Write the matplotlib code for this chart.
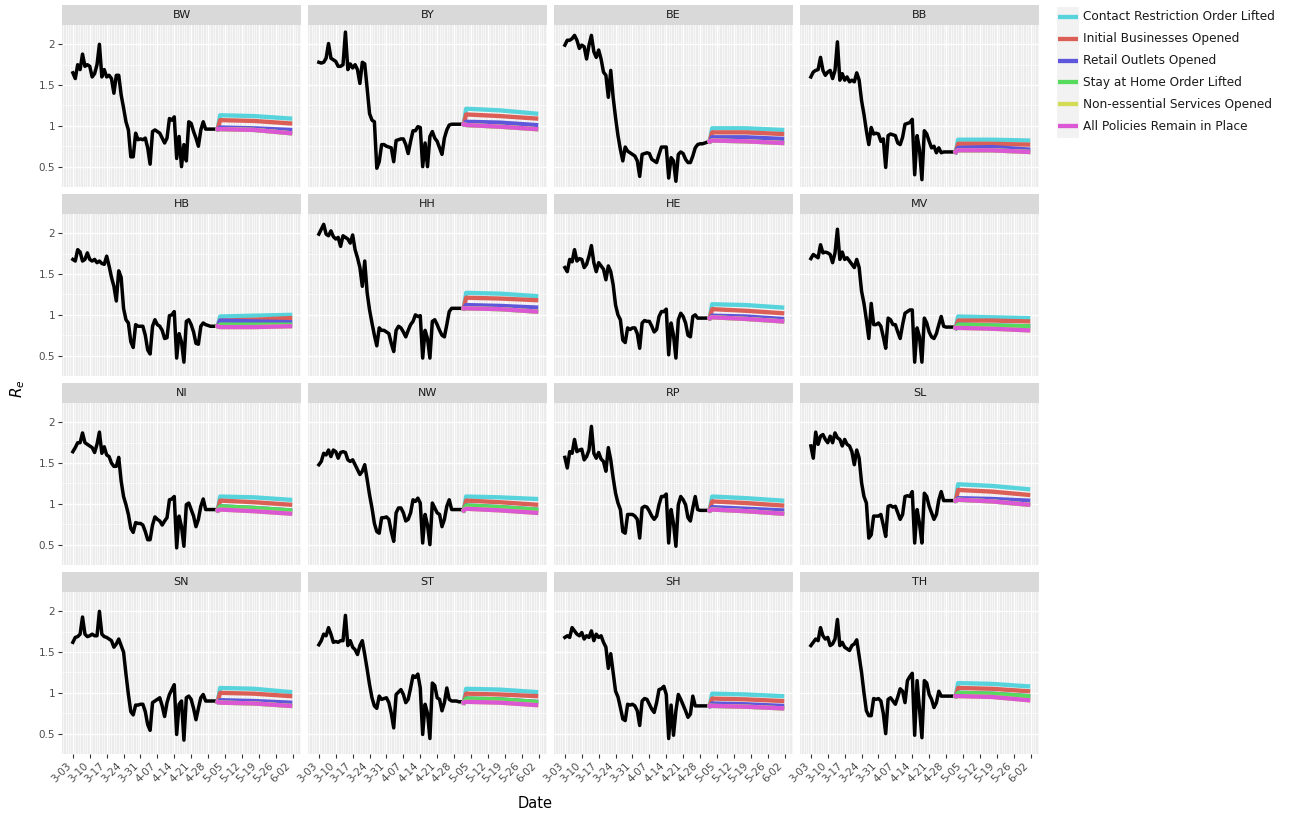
import matplotlib
matplotlib.use("Agg")
import matplotlib.pyplot as plt
import pandas as pd

# --- data -------------------------------------------------------------------
states = ["BW", "BY", "BE", "BB", "HB", "HH", "HE", "MV",
          "NI", "NW", "RP", "SL", "SN", "ST", "SH", "TH"]

scenarios = [
    "Contact Restriction Order Lifted",
    "Initial Businesses Opened",
    "Retail Outlets Opened",
    "Stay at Home Order Lifted",
    "Non-essential Services Opened",
    "All Policies Remain in Place",
]
scenario_colors = ["#57d3db", "#db5f57", "#5e57db", "#57db5e", "#d3db57", "#db57d3"]

obs_start = "2020-03-03"  # first day of the daily R_e estimates
proj_dates = ["2020-05-03", "2020-05-17", "2020-06-01"]
week_ticks = pd.date_range("2020-03-03", "2020-06-02", freq="7D")

re_BW = [1.65, 1.58, 1.75, 1.69, 1.88, 1.73, 1.75, 1.73, 1.60, 1.64,
         1.75, 2.00, 1.60, 1.69, 1.60, 1.62, 1.58, 1.40, 1.62, 1.62,
         1.38, 1.22, 1.05, 0.95, 0.62, 0.62, 0.91, 0.83, 0.84, 0.83,
         0.85, 0.73, 0.53, 0.93, 0.95, 0.93, 0.91, 0.85, 0.79, 0.85,
         1.09, 1.07, 1.11, 0.60, 0.87, 0.50, 0.77, 0.57, 1.05, 1.03,
         0.93, 0.85, 0.75, 0.95, 1.05, 0.96, 0.96, 0.96, 0.96, 0.96, 0.96]
re_BY = [1.78, 1.77, 1.78, 1.83, 2.01, 1.83, 1.81, 1.79, 1.73, 1.73,
         1.75, 2.15, 1.69, 1.76, 1.71, 1.75, 1.69, 1.52, 1.78, 1.76,
         1.46, 1.15, 1.07, 1.05, 0.48, 0.56, 0.77, 0.77, 0.75, 0.74,
         0.73, 0.56, 0.82, 0.83, 0.84, 0.84, 0.77, 0.66, 0.81, 0.94,
         0.94, 0.99, 0.98, 0.50, 0.79, 0.50, 0.87, 0.93, 0.85, 0.81,
         0.73, 0.65, 0.85, 0.95, 1.01, 1.02, 1.02, 1.02, 1.02, 1.02, 1.02]
re_BE = [1.99, 2.05, 2.05, 2.07, 2.11, 2.05, 1.95, 1.99, 1.97, 1.82,
         1.99, 2.11, 1.91, 1.84, 1.93, 1.82, 1.66, 1.62, 1.35, 1.68,
         1.35, 1.10, 0.88, 0.71, 0.57, 0.74, 0.69, 0.67, 0.65, 0.63,
         0.57, 0.38, 0.65, 0.66, 0.67, 0.66, 0.59, 0.57, 0.55, 0.65,
         0.74, 0.74, 0.74, 0.36, 0.61, 0.57, 0.32, 0.65, 0.68, 0.66,
         0.59, 0.55, 0.55, 0.63, 0.73, 0.77, 0.78, 0.78, 0.79, 0.80, 0.81]
re_BB = [1.60, 1.66, 1.68, 1.69, 1.84, 1.68, 1.62, 1.66, 1.68, 1.58,
         1.68, 2.03, 1.56, 1.64, 1.56, 1.60, 1.54, 1.56, 1.54, 1.65,
         1.56, 1.31, 1.14, 0.94, 0.77, 0.98, 0.90, 0.91, 0.90, 0.81,
         0.84, 0.49, 0.88, 0.90, 0.89, 0.88, 0.79, 0.77, 0.86, 1.02,
         1.03, 1.04, 1.08, 0.40, 0.88, 0.71, 0.34, 0.94, 0.90, 0.81,
         0.73, 0.75, 0.67, 0.73, 0.67, 0.68, 0.68, 0.68, 0.68, 0.68, 0.68]
re_HB = [1.68, 1.66, 1.80, 1.77, 1.66, 1.68, 1.76, 1.68, 1.66, 1.68,
         1.64, 1.66, 1.63, 1.62, 1.72, 1.60, 1.46, 1.35, 1.17, 1.54,
         1.46, 1.08, 0.94, 0.90, 0.67, 0.60, 0.88, 0.86, 0.86, 0.86,
         0.75, 0.57, 0.52, 0.86, 0.94, 0.88, 0.86, 0.81, 0.71, 0.72,
         0.99, 1.00, 1.04, 0.47, 0.77, 0.67, 0.42, 0.92, 0.94, 0.88,
         0.79, 0.65, 0.64, 0.86, 0.90, 0.88, 0.87, 0.86, 0.86, 0.86, 0.86]
re_HH = [1.99, 2.05, 2.11, 1.99, 1.97, 2.03, 1.96, 1.93, 1.95, 1.84,
         1.97, 1.95, 1.93, 1.88, 1.98, 1.80, 1.70, 1.58, 1.35, 1.66,
         1.27, 1.06, 0.90, 0.75, 0.62, 0.84, 0.81, 0.81, 0.79, 0.77,
         0.65, 0.55, 0.81, 0.86, 0.84, 0.79, 0.73, 0.81, 0.88, 0.92,
         1.00, 0.98, 0.99, 0.47, 0.81, 0.71, 0.47, 0.92, 0.94, 0.88,
         0.81, 0.75, 0.73, 0.88, 1.04, 1.08, 1.08, 1.08, 1.08, 1.08, 1.08]
re_HE = [1.58, 1.53, 1.68, 1.65, 1.80, 1.66, 1.69, 1.68, 1.58, 1.62,
         1.72, 1.85, 1.64, 1.53, 1.64, 1.60, 1.56, 1.43, 1.60, 1.53,
         1.37, 1.12, 1.00, 0.94, 0.69, 0.66, 0.84, 0.82, 0.84, 0.84,
         0.77, 0.59, 0.90, 0.93, 0.92, 0.92, 0.86, 0.79, 0.82, 0.98,
         1.04, 1.04, 1.07, 0.51, 0.90, 0.75, 0.47, 0.94, 1.02, 0.98,
         0.90, 0.75, 0.73, 0.98, 1.00, 0.96, 0.96, 0.96, 0.96, 0.96, 0.96]
re_MV = [1.69, 1.74, 1.72, 1.70, 1.86, 1.76, 1.77, 1.76, 1.74, 1.64,
         1.76, 2.05, 1.68, 1.77, 1.68, 1.70, 1.66, 1.62, 1.58, 1.68,
         1.58, 1.29, 1.14, 0.94, 0.71, 1.14, 0.88, 0.88, 0.90, 0.86,
         0.73, 0.59, 0.96, 0.94, 0.88, 0.88, 0.79, 0.71, 0.88, 1.02,
         1.04, 1.06, 1.06, 0.42, 0.84, 0.73, 0.42, 0.96, 0.90, 0.79,
         0.73, 0.71, 0.77, 0.88, 0.98, 0.86, 0.85, 0.85, 0.85, 0.85, 0.84]
re_NI = [1.64, 1.69, 1.75, 1.75, 1.87, 1.75, 1.73, 1.71, 1.69, 1.63,
         1.73, 1.88, 1.62, 1.70, 1.60, 1.58, 1.50, 1.46, 1.46, 1.57,
         1.28, 1.09, 0.99, 0.87, 0.70, 0.65, 0.77, 0.76, 0.76, 0.74,
         0.66, 0.56, 0.56, 0.74, 0.84, 0.81, 0.79, 0.74, 0.79, 0.83,
         1.05, 1.06, 1.09, 0.46, 0.85, 0.72, 0.48, 0.99, 1.01, 0.93,
         0.85, 0.72, 0.81, 0.97, 1.06, 0.93, 0.93, 0.93, 0.93, 0.93, 0.92]
re_NW = [1.48, 1.52, 1.62, 1.60, 1.66, 1.58, 1.66, 1.64, 1.56, 1.63,
         1.64, 1.63, 1.54, 1.52, 1.54, 1.48, 1.42, 1.36, 1.40, 1.48,
         1.30, 1.11, 0.95, 0.76, 0.66, 0.64, 0.83, 0.83, 0.84, 0.81,
         0.66, 0.54, 0.89, 0.95, 0.95, 0.89, 0.79, 0.81, 0.89, 1.05,
         1.03, 1.07, 1.01, 0.52, 0.87, 0.74, 0.50, 1.01, 0.95, 0.89,
         0.87, 0.72, 0.81, 0.97, 1.05, 0.93, 0.93, 0.93, 0.93, 0.93, 0.92]
re_RP = [1.57, 1.44, 1.64, 1.62, 1.79, 1.64, 1.66, 1.67, 1.54, 1.58,
         1.66, 1.95, 1.62, 1.56, 1.63, 1.55, 1.52, 1.40, 1.69, 1.54,
         1.32, 1.13, 1.01, 0.93, 0.66, 0.64, 0.87, 0.87, 0.87, 0.85,
         0.81, 0.58, 0.95, 0.97, 0.96, 0.91, 0.85, 0.81, 0.85, 0.99,
         1.09, 1.09, 1.12, 0.52, 0.93, 0.76, 0.48, 0.99, 1.09, 1.05,
         0.99, 0.83, 0.79, 0.95, 1.09, 0.93, 0.92, 0.92, 0.92, 0.92, 0.92]
re_SL = [1.71, 1.56, 1.88, 1.73, 1.83, 1.85, 1.79, 1.75, 1.83, 1.75,
         1.87, 1.81, 1.79, 1.71, 1.79, 1.73, 1.71, 1.64, 1.48, 1.66,
         1.56, 1.26, 1.09, 1.01, 0.58, 0.62, 0.85, 0.85, 0.85, 0.87,
         0.74, 0.60, 0.97, 0.98, 0.96, 0.97, 0.89, 0.81, 0.87, 1.09,
         1.10, 1.09, 1.15, 0.52, 0.93, 0.76, 0.52, 1.13, 1.09, 0.97,
         0.89, 0.81, 0.87, 1.05, 1.15, 1.04, 1.04, 1.04, 1.04, 1.04, 1.04]
re_SN = [1.62, 1.68, 1.69, 1.72, 1.93, 1.72, 1.69, 1.70, 1.72, 1.70,
         1.70, 2.00, 1.72, 1.69, 1.68, 1.66, 1.64, 1.56, 1.60, 1.66,
         1.58, 1.50, 1.23, 0.98, 0.77, 0.73, 0.85, 0.85, 0.86, 0.86,
         0.77, 0.61, 0.54, 0.88, 0.90, 0.92, 0.94, 0.84, 0.71, 0.88,
         0.98, 1.04, 1.10, 0.49, 0.86, 0.90, 0.42, 0.94, 0.96, 0.92,
         0.81, 0.67, 0.81, 0.94, 0.98, 0.90, 0.90, 0.90, 0.90, 0.90, 0.89]
re_ST = [1.59, 1.64, 1.72, 1.70, 1.80, 1.72, 1.62, 1.63, 1.62, 1.64,
         1.64, 1.95, 1.58, 1.64, 1.56, 1.53, 1.47, 1.58, 1.64, 1.47,
         1.29, 1.10, 0.94, 0.84, 0.81, 0.96, 0.92, 0.93, 0.94, 0.88,
         0.75, 0.57, 0.98, 1.01, 1.04, 0.98, 0.88, 0.92, 1.06, 1.21,
         1.19, 1.23, 1.06, 0.49, 0.86, 0.75, 0.44, 1.12, 1.09, 0.94,
         0.92, 0.78, 0.88, 1.06, 0.92, 0.90, 0.90, 0.90, 0.89, 0.89, 0.88]
re_SH = [1.68, 1.70, 1.68, 1.80, 1.76, 1.72, 1.70, 1.74, 1.66, 1.70,
         1.68, 1.76, 1.64, 1.72, 1.68, 1.70, 1.62, 1.56, 1.30, 1.48,
         1.25, 1.02, 0.95, 0.82, 0.68, 0.66, 0.86, 0.85, 0.86, 0.84,
         0.78, 0.60, 0.90, 0.93, 0.92, 0.86, 0.80, 0.76, 0.88, 1.04,
         1.05, 1.08, 0.98, 0.44, 0.85, 0.48, 0.78, 0.98, 0.92, 0.85,
         0.78, 0.70, 0.74, 0.96, 0.84, 0.84, 0.84, 0.84, 0.84, 0.84, 0.84]
re_TH = [1.58, 1.62, 1.66, 1.64, 1.80, 1.70, 1.66, 1.68, 1.58, 1.60,
         1.66, 1.90, 1.58, 1.62, 1.56, 1.54, 1.52, 1.58, 1.60, 1.65,
         1.45, 1.25, 1.00, 0.78, 0.72, 0.72, 0.93, 0.92, 0.93, 0.90,
         0.75, 0.50, 0.92, 0.94, 0.90, 0.86, 0.95, 1.05, 1.02, 0.88,
         1.15, 1.20, 1.24, 0.48, 1.15, 0.80, 0.45, 1.15, 1.12, 0.98,
         0.92, 0.82, 0.88, 1.02, 0.96, 0.96, 0.96, 0.96, 0.96, 0.96, 0.96]

# projected R_e per scenario (same order as `scenarios`) on proj_dates
proj_BW = [(1.13, 1.12, 1.09), (1.07, 1.06, 1.03), (0.98, 0.97, 0.95),
           (0.96, 0.95, 0.91), (0.96, 0.95, 0.91), (0.96, 0.95, 0.91)]
proj_BY = [(1.21, 1.19, 1.15), (1.14, 1.12, 1.09), (1.05, 1.04, 1.01),
           (1.01, 0.99, 0.96), (1.01, 0.99, 0.96), (1.01, 0.99, 0.96)]
proj_BE = [(0.97, 0.97, 0.95), (0.92, 0.92, 0.90), (0.86, 0.86, 0.84),
           (0.82, 0.81, 0.79), (0.82, 0.81, 0.79), (0.82, 0.81, 0.79)]
proj_BB = [(0.83, 0.83, 0.82), (0.78, 0.78, 0.77), (0.73, 0.74, 0.71),
           (0.70, 0.70, 0.68), (0.70, 0.70, 0.68), (0.70, 0.70, 0.68)]
proj_HB = [(0.98, 0.99, 1.00), (0.93, 0.94, 0.96), (0.93, 0.92, 0.91),
           (0.88, 0.88, 0.88), (0.85, 0.85, 0.86), (0.85, 0.85, 0.86)]
proj_HH = [(1.27, 1.26, 1.23), (1.21, 1.20, 1.18), (1.12, 1.11, 1.09),
           (1.08, 1.07, 1.04), (1.08, 1.07, 1.04), (1.08, 1.07, 1.04)]
proj_HE = [(1.13, 1.12, 1.09), (1.07, 1.05, 1.02), (0.99, 0.98, 0.95),
           (0.97, 0.95, 0.92), (0.97, 0.95, 0.92), (0.97, 0.95, 0.92)]
proj_MV = [(0.98, 0.97, 0.96), (0.93, 0.93, 0.92), (0.88, 0.87, 0.86),
           (0.88, 0.87, 0.86), (0.84, 0.83, 0.81), (0.84, 0.83, 0.81)]
proj_NI = [(1.09, 1.08, 1.05), (1.04, 1.02, 0.99), (0.97, 0.95, 0.92),
           (0.97, 0.95, 0.92), (0.93, 0.91, 0.88), (0.93, 0.91, 0.88)]
proj_NW = [(1.09, 1.08, 1.06), (1.04, 1.02, 0.99), (0.98, 0.96, 0.93),
           (0.98, 0.96, 0.93), (0.94, 0.92, 0.89), (0.94, 0.92, 0.89)]
proj_RP = [(1.09, 1.07, 1.04), (1.03, 1.01, 0.98), (0.96, 0.94, 0.92),
           (0.93, 0.91, 0.88), (0.93, 0.91, 0.88), (0.93, 0.91, 0.88)]
proj_SL = [(1.24, 1.22, 1.18), (1.17, 1.15, 1.11), (1.07, 1.06, 1.04),
           (1.05, 1.03, 0.99), (1.05, 1.03, 0.99), (1.05, 1.03, 0.99)]
proj_SN = [(1.06, 1.05, 1.01), (1.00, 0.99, 0.96), (0.91, 0.90, 0.88),
           (0.88, 0.87, 0.84), (0.88, 0.87, 0.84), (0.88, 0.87, 0.84)]
proj_ST = [(1.05, 1.04, 1.01), (0.99, 0.98, 0.96), (0.93, 0.92, 0.89),
           (0.93, 0.92, 0.89), (0.89, 0.88, 0.85), (0.89, 0.88, 0.85)]
proj_SH = [(0.99, 0.98, 0.96), (0.93, 0.92, 0.90), (0.87, 0.86, 0.84),
           (0.84, 0.83, 0.81), (0.84, 0.83, 0.81), (0.84, 0.83, 0.81)]
proj_TH = [(1.12, 1.11, 1.08), (1.06, 1.05, 1.02), (1.00, 0.99, 0.96),
           (1.00, 0.99, 0.96), (0.96, 0.95, 0.91), (0.96, 0.95, 0.91)]

observed = [re_BW, re_BY, re_BE, re_BB, re_HB, re_HH, re_HE, re_MV,
            re_NI, re_NW, re_RP, re_SL, re_SN, re_ST, re_SH, re_TH]
projected = [proj_BW, proj_BY, proj_BE, proj_BB, proj_HB, proj_HH, proj_HE, proj_MV,
             proj_NI, proj_NW, proj_RP, proj_SL, proj_SN, proj_ST, proj_SH, proj_TH]

# --- layout (pixel based, ggplot-like facets) ------------------------------
W, H = 1291, 815
fig = plt.figure(figsize=(W / 100, H / 100), dpi=100)

col_left = [62, 308, 554, 800]
row_top = [5, 194, 383, 572]
panel_w, strip_h, panel_h = 239, 20, 162


def px_axes(x, y, w, h):
    return fig.add_axes([x / W, 1 - (y + h) / H, w / W, h / H])


x_lo = pd.Timestamp(obs_start) - pd.Timedelta(days=4.5)
x_hi = pd.Timestamp(proj_dates[-1]) + pd.Timedelta(days=4.5)
day_grid = pd.date_range(x_lo.ceil("D"), x_hi, freq="D")
week_labels = [f"{d.month}-{d.day:02d}" for d in week_ticks]
proj_x = pd.to_datetime(proj_dates)

for i, state in enumerate(states):
    r, c = divmod(i, 4)

    strip = px_axes(col_left[c], row_top[r], panel_w, strip_h)
    strip.set_facecolor("#D9D9D9")
    strip.set_xticks([])
    strip.set_yticks([])
    for sp in strip.spines.values():
        sp.set_visible(False)
    strip.text(0.5, 0.5, state, ha="center", va="center", fontsize=8, color="#1A1A1A")

    ax = px_axes(col_left[c], row_top[r] + strip_h, panel_w, panel_h)
    ax.set_facecolor("#EBEBEB")
    for sp in ax.spines.values():
        sp.set_visible(False)
    ax.set_axisbelow(True)

    obs = observed[i]
    obs_x = pd.date_range(obs_start, periods=len(obs), freq="D")
    ax.plot(obs_x, obs, color="black", lw=2.5, solid_joinstyle="round", zorder=3)

    # scenarios drawn in legend order, so the last one sits on top
    for k, vals in enumerate(projected[i]):
        xs = [obs_x[-1]] + list(proj_x)
        ys = [obs[-1]] + list(vals)
        ax.plot(xs, ys, color=scenario_colors[k], lw=3.1,
                solid_joinstyle="round", zorder=4 + k)

    ax.set_xlim(x_lo, x_hi)
    ax.set_ylim(0.25, 2.237)
    ax.set_xticks(week_ticks)
    ax.set_xticks(day_grid, minor=True)
    ax.set_yticks([0.5, 1, 1.5, 2])
    ax.set_yticks([0.75, 1.25, 1.75], minor=True)
    ax.grid(which="major", color="white", lw=1.0)
    ax.grid(which="minor", color="white", lw=0.45)
    ax.tick_params(which="minor", length=0)
    ax.tick_params(which="major", length=3, width=0.8, color="#333333",
                   labelsize=7.5, labelcolor="#4D4D4D", pad=2)

    if c == 0:
        ax.set_yticklabels(["0.5", "1", "1.5", "2"])
    else:
        ax.tick_params(axis="y", length=0, labelleft=False)

    if r == 3:
        ax.set_xticklabels(week_labels, rotation=45, ha="right", va="top")
    else:
        ax.tick_params(axis="x", length=0, labelbottom=False)

# --- axis titles ------------------------------------------------------------
fig.text(18 / W, 1 - 389 / H, r"$R_e$", rotation=90, ha="center", va="center",
         fontsize=11)
fig.text(535 / W, 1 - 803 / H, "Date", ha="center", va="center", fontsize=10.5)

# --- legend -----------------------------------------------------------------
leg = px_axes(1057, 7, 22, 131)
leg.set_facecolor("#F2F2F2")
leg.set_xticks([])
leg.set_yticks([])
for sp in leg.spines.values():
    sp.set_visible(False)
leg.set_xlim(0, 1)
leg.set_ylim(131, 0)
for k, name in enumerate(scenarios):
    y = 10 + k * 21.8
    leg.plot([0.05, 0.95], [y, y], color=scenario_colors[k], lw=3.1,
             solid_capstyle="butt")
    leg.text(1.2, y, name, ha="left", va="center", fontsize=8.7,
             color="#1A1A1A", clip_on=False)

fig.savefig("out.png", dpi=100)
